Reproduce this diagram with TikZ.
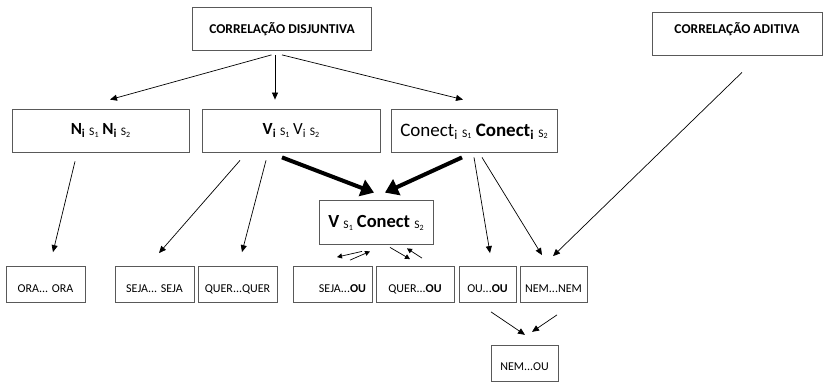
\documentclass[tikz,border=0pt]{standalone}
\usepackage{fontspec}
\setmainfont{Carlito}
\usetikzlibrary{arrows.meta}

\newcommand{\Sn}[1]{\raisebox{-1pt}{\fontsize{11.5}{11.5}\selectfont\mdseries S\raisebox{-1.2pt}{\fontsize{8}{8}\selectfont #1}}}

\tikzset{
	box/.style={draw=black!65, line width=0.8pt, inner xsep=0pt, inner ysep=0pt},
	headbox/.style={box, font=\fontsize{13.5}{15}\selectfont\bfseries},
	formbox/.style={box, text height=26pt, text depth=17pt, font=\fontsize{17}{19}\selectfont},
	leaf/.style={box, text height=26pt, text depth=10pt, font=\fontsize{12}{14}\selectfont},
	linkarrow/.style={draw, line width=0.7pt, -{Triangle[length=7pt,width=6pt]}},
	heavyarrow/.style={draw, line width=4pt, -{Triangle[length=13pt,width=17pt]}},
	tinyarrow/.style={draw, line width=0.7pt, -{Triangle[length=5pt,width=5pt]}}
}

\begin{document}
\begin{tikzpicture}[x=1pt, y=-1pt]
\useasboundingbox (0,0) rectangle (823,382);
\node[headbox, minimum width=179pt, text height=26.5pt, text depth=16.5pt] (disj) at (282,29) {CORRELAÇÃO DISJUNTIVA};
\node[headbox, minimum width=170pt, text height=21.5pt, text depth=21.5pt] (adit) at (737,33.5) {CORRELAÇÃO ADITIVA};
\node[formbox, minimum width=177pt] (ni) at (100.5,130.5) {\textbf{N\textsubscript{i}} \Sn{1} \textbf{N\textsubscript{i}} \Sn{2}};
\node[formbox, minimum width=178pt] (vi) at (291,130.5) {\textbf{V\textsubscript{i}} \Sn{1} V\textsubscript{i} \Sn{2}};
\node[formbox, minimum width=166pt, text height=27.5pt, text depth=15.5pt, font=\fontsize{19}{21}\selectfont] (ci) at (474,130.5) {Conect\textsubscript{i} \Sn{1} \textbf{Conect\textsubscript{i}} \Sn{2}};
\node[box, minimum width=114pt, text height=28pt, text depth=16pt, font=\fontsize{18.5}{20}\selectfont] (vc) at (376,222) {\textbf{V} \Sn{1} \textbf{Conect} \Sn{2}};
\node[leaf, minimum width=79pt] (oraora) at (45.5,284.5) {ORA... ORA};
\node[leaf, minimum width=79pt] (sejaseja) at (154.5,284.5) {SEJA... SEJA};
\node[leaf, minimum width=79pt] (querquer) at (237.5,284.5) {QUER...QUER};
\node[leaf, text width=67pt, inner xsep=6pt, align=right] (sejaou) at (332.5,284.5) {SEJA...\textbf{OU}};
\node[leaf, minimum width=78pt] (querou) at (415,284.5) {QUER...\textbf{OU}};
\node[leaf, minimum width=57pt] (ouou) at (487.5,284.5) {OU...\textbf{OU}};
\node[leaf, minimum width=67pt] (nemnem) at (553.5,284.5) {NEM...NEM};
\node[box, minimum width=67pt, text height=25pt, text depth=11.5pt, font=\fontsize{12}{14}\selectfont] (nemou) at (524.5,363.5) {NEM...OU};

\path ([xshift=-10.5pt,yshift=-4pt]disj.south) edge[linkarrow] ([xshift=9.5pt,yshift=9pt]ni.north);
\path ([xshift=-7pt,yshift=-4pt]disj.south) edge[linkarrow] ([xshift=-16pt,yshift=9pt]vi.north);
\path ([yshift=-4pt]disj.south) edge[linkarrow] ([xshift=-11pt,yshift=9pt]ci.north);
\path ([xshift=-25.5pt,yshift=-9pt]ni.south) edge[linkarrow] ([xshift=7.5pt,yshift=14pt]oraora.north);
\path ([xshift=-51pt,yshift=-8pt]vi.south) edge[linkarrow] ([xshift=4.5pt,yshift=13pt]sejaseja.north);
\path ([xshift=-25pt,yshift=-8pt]vi.south) edge[linkarrow] ([xshift=4.5pt,yshift=14pt]querquer.north);
\path ([xshift=-9pt,yshift=-5pt]vi.south) edge[heavyarrow] ([xshift=-2pt,yshift=7pt]vc.north);
\path ([xshift=-12pt,yshift=-5pt]ci.south) edge[heavyarrow] ([xshift=9pt,yshift=7pt]vc.north);
\path ([yshift=-5pt]ci.south) edge[linkarrow] ([xshift=2.5pt,yshift=13pt]ouou.north);
\path ([xshift=8pt,yshift=-5pt]ci.south) edge[linkarrow] ([xshift=-11.5pt,yshift=11pt]nemnem.north);
\path ([xshift=5pt,yshift=-17pt]adit.south) edge[linkarrow] ([xshift=-0.5pt,yshift=10pt]nemnem.north);
\path ([xshift=3.5pt,yshift=-9pt]ouou.south) edge[linkarrow] ([xshift=0.5pt,yshift=10pt]nemou.north);
\path ([xshift=3.5pt,yshift=-12pt]nemnem.south) edge[linkarrow] ([xshift=7.5pt,yshift=13pt]nemou.north);
\path ([xshift=-14pt,yshift=-7pt]vc.south) edge[tinyarrow] ([xshift=4.5pt,yshift=9pt]sejaou.north);
\path ([xshift=17.5pt,yshift=6pt]sejaou.north) edge[tinyarrow] ([xshift=-6pt,yshift=-7pt]vc.south);
\path ([xshift=14pt,yshift=-3pt]vc.south) edge[tinyarrow] ([xshift=-5pt,yshift=7pt]querou.north);
\path ([xshift=7pt,yshift=8pt]querou.north) edge[tinyarrow] ([xshift=31pt,yshift=-4pt]vc.south);
\end{tikzpicture}
\end{document}
